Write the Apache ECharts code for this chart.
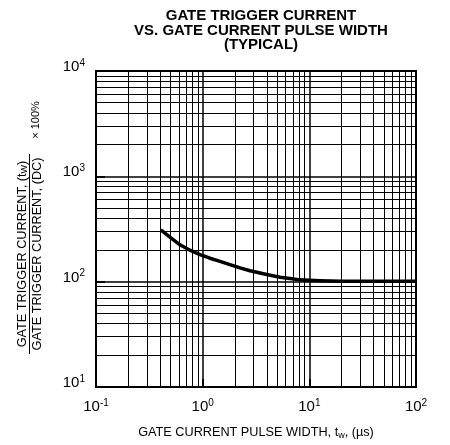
<!DOCTYPE html>
<html>
<head>
<meta charset="utf-8">
<script src="https://cdn.jsdelivr.net/npm/echarts@6/dist/echarts.min.js"></script>
<style>html,body{margin:0;padding:0;background:#fff}#c{width:450px;height:445px}</style>
</head>
<body>
<div id="c"></div>
<script>
// ---- data ----
const pulseWidth = [0.405, 0.5, 0.613, 0.76, 0.944, 1.17, 1.454, 1.8, 2.24, 2.78, 3.45, 4.3, 5.31, 6.6, 8.18, 10, 12.6, 20, 50, 100];
const currentRatio = [310, 262, 224, 199, 181, 167, 156, 145, 135, 127, 121, 115, 110, 107, 104, 103, 102, 101, 101, 101];
const xTickExponents = [-1, 0, 1, 2];
const yTickExponents = [1, 2, 3, 4];
const gridMultipliers = [2, 3, 4, 5, 6, 7, 8, 9];
const xDecades = [0.1, 1, 10];
const yDecades = [10, 100, 1000];
const titleText = 'GATE TRIGGER CURRENT\nVS. GATE CURRENT PULSE WIDTH\n(TYPICAL)';

const FONT = '"Liberation Sans", Arial, Helvetica, sans-serif';

const minorX = [];
xDecades.forEach(d => gridMultipliers.forEach(m => minorX.push({ xAxis: +(d * m).toPrecision(3) })));
const minorY = [];
yDecades.forEach(d => gridMultipliers.forEach(m => minorY.push({ yAxis: +(d * m).toPrecision(3) })));

const expLabel = v => '{b|10}{s|' + Math.round(Math.log10(v)) + '}';
const tickRich = {
  b: { fontSize: 15, fontFamily: FONT, color: '#000', lineHeight: 18 },
  s: { fontSize: 10, fontFamily: FONT, color: '#000', verticalAlign: 'top', lineHeight: 10, padding: [0, 0, 6, 0] }
};

const chart = echarts.init(document.getElementById('c'), null, { renderer: 'canvas' });
chart.setOption({
  animation: false,
  backgroundColor: '#fff',
  title: {
    text: titleText,
    left: 256,
    textAlign: 'center',
    top: 4,
    textStyle: { fontFamily: FONT, fontSize: 15, fontWeight: 'bold', color: '#000', lineHeight: 14.5 }
  },
  grid: { left: 96, right: 34, top: 71, bottom: 55, show: true, borderColor: '#000', borderWidth: 2, backgroundColor: 'transparent' },
  xAxis: {
    type: 'log', logBase: 10, min: 0.1, max: 100,
    axisLine: { lineStyle: { color: '#000', width: 2 } },
    axisTick: { show: true, inside: true, length: 8, lineStyle: { color: '#000', width: 2 } },
    splitLine: { show: true, lineStyle: { color: '#000', width: 1.5 } },
    minorTick: { show: false }, minorSplitLine: { show: false },
    axisLabel: { formatter: expLabel, rich: tickRich, margin: 11 },
    name: 'GATE CURRENT PULSE WIDTH, t{sub|w}, (\u00b5s)',
    nameLocation: 'middle', nameGap: 38,
    nameTextStyle: {
      fontFamily: FONT, fontSize: 12.7, color: '#000',
      rich: { sub: { fontSize: 9, fontFamily: FONT, color: '#000', verticalAlign: 'bottom', padding: [6, 0, 0, 0] } }
    }
  },
  yAxis: {
    type: 'log', logBase: 10, min: 10, max: 10000,
    axisLine: { lineStyle: { color: '#000', width: 2 } },
    axisTick: { show: true, inside: true, length: 9, lineStyle: { color: '#000', width: 2 } },
    splitLine: { show: true, lineStyle: { color: '#000', width: 1.5 } },
    minorTick: { show: false }, minorSplitLine: { show: false },
    axisLabel: { formatter: expLabel, rich: tickRich, margin: 11, padding: [0, 0, 8, 0] }
  },
  graphic: [
    { type: 'text', x: 22, y: 254, rotation: Math.PI / 2,
      style: { text: 'GATE TRIGGER CURRENT, (t{sub|W})', fill: '#000', fontSize: 12.7, fontFamily: FONT, align: 'center', verticalAlign: 'middle', textAlign: 'center', textVerticalAlign: 'middle',
        rich: { sub: { fontSize: 9, fontFamily: FONT, fill: '#000', verticalAlign: 'bottom', padding: [5, 0, 0, 0] } } } },
    { type: 'line', shape: { x1: 29.5, y1: 154, x2: 29.5, y2: 354 }, style: { stroke: '#000', lineWidth: 1 } },
    { type: 'text', x: 37, y: 254, rotation: Math.PI / 2,
      style: { text: 'GATE TRIGGER CURRENT, (DC)', fill: '#000', fontSize: 12.7, fontFamily: FONT, align: 'center', verticalAlign: 'middle', textAlign: 'center', textVerticalAlign: 'middle' } },
    { type: 'text', x: 36, y: 120, rotation: Math.PI / 2,
      style: { text: '\u00d7 100%', fill: '#000', fontSize: 11, fontFamily: FONT, align: 'center', verticalAlign: 'middle', textAlign: 'center', textVerticalAlign: 'middle' } }
  ],
  series: [
    {
      name: 'grid', type: 'line', data: [], silent: true,
      markLine: {
        silent: true, symbol: ['none', 'none'], label: { show: false },
        lineStyle: { color: '#000', width: 1, type: 'solid' },
        emphasis: { disabled: true },
        data: minorX.concat(minorY)
      }
    },
    {
      name: 'ratio', type: 'line', smooth: false, showSymbol: false, symbol: 'none',
      lineStyle: { color: '#000', width: 3.5, join: 'round', cap: 'butt' },
      data: pulseWidth.map((x, i) => [x, currentRatio[i]]),
      z: 5
    }
  ]
});
</script>
</body>
</html>
